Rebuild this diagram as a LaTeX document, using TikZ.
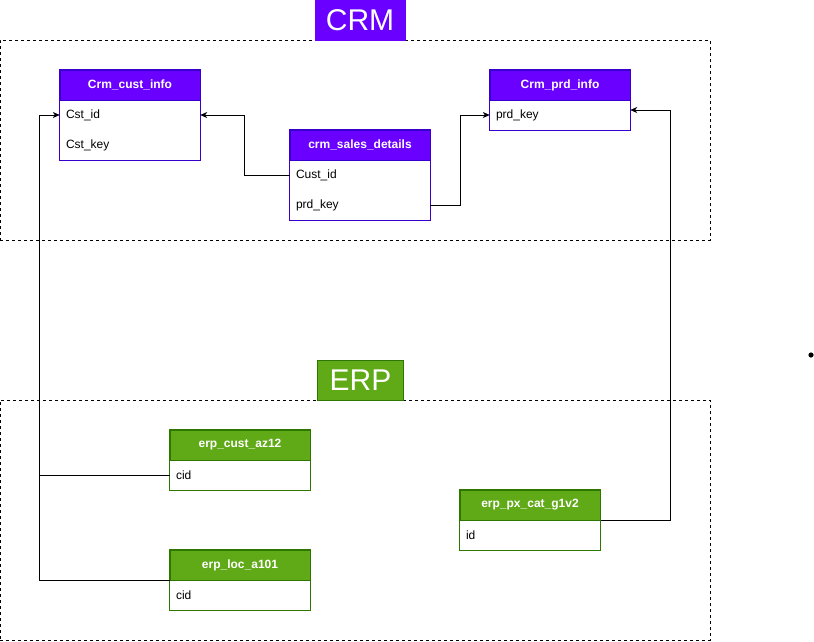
\documentclass[tikz,border=0pt]{standalone}
\usepackage{fontspec}
\setmainfont{Liberation Sans}
\usetikzlibrary{arrows.meta}
\definecolor{crmfill}{HTML}{6A00FF}
\definecolor{crmline}{HTML}{3700CC}
\definecolor{erpfill}{HTML}{60A917}
\definecolor{erpline}{HTML}{2D7600}
\tikzset{
  grp/.style={draw=black, line width=0.8pt, dash pattern=on 3pt off 3pt, minimum width=710pt, minimum height=200pt, inner sep=0pt},
  title/.style={text=white, font=\fontsize{30}{34}\selectfont, minimum width=90pt, minimum height=40pt, inner sep=0pt, line width=1pt},
  hdr/.style={text=white, font=\fontsize{12}{14}\selectfont\bfseries, minimum width=140pt, minimum height=30pt, inner sep=0pt, line width=1pt},
  rowc/.style={font=\fontsize{12}{14}\selectfont, minimum width=140pt, minimum height=30pt, inner xsep=6pt, inner ysep=0pt, text width=128pt, align=left},
  frame/.style={line width=1pt},
  conn/.style={draw=black, line width=1pt},
  arr/.style={conn, -{Stealth[length=7pt,width=6pt,inset=2pt]}}
}
\begin{document}
\begin{tikzpicture}[x=1pt,y=-1pt]
\useasboundingbox (0,0) rectangle (814,641);
% groups
\node[grp] (crmgrp) at (355,140) {};
\node[grp, minimum height=240pt] (erpgrp) at (355,520) {};
\node[title, fill=crmfill, draw=crmfill] (crmlbl) at (360,20) {CRM};
\node[title, fill=erpfill, draw=erpline, minimum width=86pt] (erplbl) at (360.5,380) {ERP};

% Crm_cust_info
\node[hdr, fill=crmfill, draw=crmline] (ch) at (130,85) {Crm\_cust\_info};
\node[rowc] (cr1) at (130,115) {Cst\_id};
\node[rowc] (cr2) at (130,145) {Cst\_key};
\draw[frame, draw=crmline] (ch.north west) rectangle (cr2.south east);

% crm_sales_details
\node[hdr, fill=crmfill, draw=crmline] (sh) at (360,145) {crm\_sales\_details};
\node[rowc] (sr1) at (360,175) {Cust\_id};
\node[rowc] (sr2) at (360,205) {prd\_key};
\draw[frame, draw=crmline] (sh.north west) rectangle (sr2.south east);

% Crm_prd_info
\node[hdr, fill=crmfill, draw=crmline] (ph) at (560,85) {Crm\_prd\_info};
\node[rowc] (pr1) at (560,115) {prd\_key};
\draw[frame, draw=crmline] (ph.north west) rectangle (pr1.south east);

% erp_cust_az12
\node[hdr, fill=erpfill, draw=erpline] (ah) at (240,445) {erp\_cust\_az12};
\node[rowc] (ar1) at (240,475) {cid};
\draw[frame, draw=erpline] (ah.north west) rectangle (ar1.south east);

% erp_loc_a101
\node[hdr, fill=erpfill, draw=erpline] (lh) at (240,565) {erp\_loc\_a101};
\node[rowc] (lr1) at (240,595) {cid};
\draw[frame, draw=erpline] (lh.north west) rectangle (lr1.south east);

% erp_px_cat_g1v2
\node[hdr, fill=erpfill, draw=erpline] (xh) at (530,505) {erp\_px\_cat\_g1v2};
\node[rowc] (xr1) at (530,535) {id};
\draw[frame, draw=erpline] (xh.north west) rectangle (xr1.south east);

% connectors
\coordinate (bus) at ([xshift=-20pt]cr1.west);
\draw[arr] (sr1.west) -- ([xshift=-45pt]sr1.west) |- (cr1.east);
\draw[arr] (sr2.east) -- ([xshift=30pt]sr2.east) |- (pr1.west);
\draw[arr] (lh.south west) -| (bus) -- (cr1.west);
\draw[conn] (ar1.west) -- (bus |- ar1.west);
\draw[arr] (xh.south east) -- ([xshift=70pt]xh.south east) |- ([yshift=5pt]pr1.east);

% stray dot
\fill[black] (811,355) circle (2.6);
\end{tikzpicture}
\end{document}
